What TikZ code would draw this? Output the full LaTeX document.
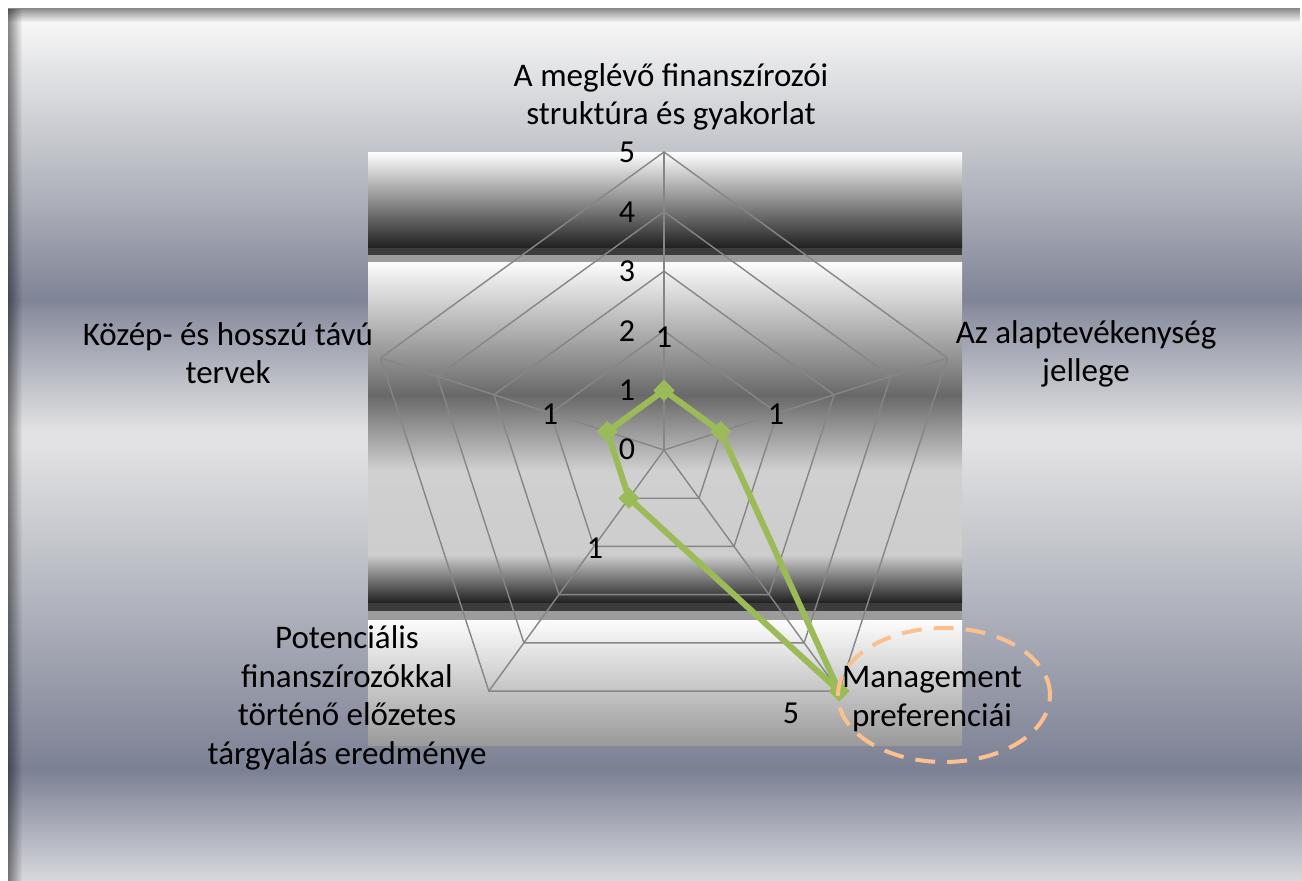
\documentclass[tikz,border=0pt]{standalone}
\usepackage{fontspec}
\setmainfont{Carlito}
\usetikzlibrary{fadings,shapes.geometric}
\definecolor{gridgray}{HTML}{868686}
\definecolor{datagreen}{HTML}{9BBB59}
\definecolor{hlorange}{HTML}{FAC090}
\definecolor{bandA}{HTML}{3C3C3C}
\definecolor{bandB}{HTML}{9C9C9C}
\newcommand{\vband}[6]{\definecolor{vbtop}{HTML}{#3}\definecolor{vbbot}{HTML}{#4}\shade[top color=vbtop,bottom color=vbbot] (#5,#1) rectangle (#6,#2);}
\tikzset{
  gridline/.style={draw=gridgray, line width=1.4pt},
  dataline/.style={draw=datagreen, line width=6pt, line join=round},
  marker/.style={diamond, fill=datagreen, inner sep=0pt, minimum width=21pt, minimum height=21pt},
  catlabel/.style={align=center, font=\fontsize{33}{38.5}\selectfont, inner sep=0pt},
  numlabel/.style={font=\fontsize{32}{36}\selectfont, inner sep=0pt},
  highlight/.style={ellipse, draw=hlorange, line width=4pt, dash pattern=on 20pt off 12pt, minimum width=212pt, minimum height=134pt, inner sep=0pt},
}
\begin{document}
\begin{tikzpicture}[x=1pt,y=-1pt]
\useasboundingbox (0,0) rectangle (1302,881);
\fill[white] (0,0) rectangle (1302,881);
% outer background gradient
\vband{8}{20.5}{F8F8F8}{F7F7F7}{8}{1302}
\vband{20}{200.5}{F7F7F7}{ADB0B9}{8}{1302}
\vband{200}{300.5}{ADB0B9}{7E8396}{8}{1302}
\vband{300}{310.5}{7E8396}{8A8E9F}{8}{1302}
\vband{310}{430.5}{8A8E9F}{E2E2E4}{8}{1302}
\vband{430}{445.5}{E2E2E4}{E2E2E4}{8}{1302}
\vband{445}{600.5}{E2E2E4}{B2B5BE}{8}{1302}
\vband{600}{770.5}{B2B5BE}{7B8094}{8}{1302}
\vband{770}{881}{7B8094}{D8D9DD}{8}{1302}
% frame shadow
\fill[black, opacity=0.45, path fading=east] (8,8) rectangle (22,881);
\fill[black, opacity=0.45, path fading=south] (8,8) rectangle (1302,22);
% plot area gradient
\vband{152}{248.5}{FFFFFF}{1E1E1E}{368}{962}
\fill[bandA] (368,248) rectangle (962,255.5);
\fill[bandB] (368,255) rectangle (962,262.5);
\vband{262}{395.5}{FCFCFC}{686868}{368}{962}
\vband{395}{470.5}{686868}{D0D0D0}{368}{962}
\vband{470}{555.5}{D0D0D0}{CDCDCD}{368}{962}
\vband{555}{603.5}{CDCDCD}{1E1E1E}{368}{962}
\fill[bandA] (368,603) rectangle (962,611.5);
\fill[bandB] (368,611) rectangle (962,620.5);
\vband{620}{745}{FCFCFC}{9A9A9A}{368}{962}
% radar grid
\begin{scope}[shift={(664,450)}]
  \coordinate (C) at (0,0);
  \foreach \k in {1,...,5} {
    \draw[gridline] (-90:\k*59.6) -- (-18:\k*59.6) -- (54:\k*59.6) -- (126:\k*59.6) -- (198:\k*59.6) -- cycle;
  }
  \foreach \a/\n in {-90/vt,-18/vr,54/vbr,126/vbl,198/vl} {
    \coordinate (\n) at (\a:298);
    \draw[gridline] (C) -- (\n);
  }
  % data points
  \node[marker] (p1) at (-90:59.6) {};
  \node[marker] (p2) at (-18:59.6) {};
  \node[marker] (p3) at (54:298) {};
  \node[marker] (p4) at (126:59.6) {};
  \node[marker] (p5) at (198:59.6) {};
  \draw[dataline] (p1.center) -- (p2.center) -- (p3.center) -- (p4.center) -- (p5.center) -- cycle;
  \foreach \p in {p1,p2,p3,p4,p5} { \node[marker] at (\p) {}; }
\end{scope}
% axis value labels
\node[numlabel] (a5) at (627,152) {5};
\node[numlabel] (a4) at (627,212) {4};
\node[numlabel] (a3) at (627,271) {3};
\node[numlabel] (a2) at (627,331) {2};
\node[numlabel] (a1) at (627,390) {1};
\node[numlabel] (a0) at (627,449) {0};
% data labels
\node[numlabel] (d1) at (664,337) {1};
\node[numlabel] (d2) at (776,414) {1};
\node[numlabel] (d3) at (791,713) {5};
\node[numlabel] (d4) at (595,548) {1};
\node[numlabel] (d5) at (550,414) {1};
% category labels
\node[catlabel] (c1) at (671,97) {A meglévő finanszírozói\\struktúra és gyakorlat};
\node[catlabel] (c2) at (1086,354) {Az alaptevékenység\\jellege};
\node[catlabel] (c3) at (932,699) {Management\\preferenciái};
\node[catlabel] (c4) at (347,698) {Potenciális\\finanszírozókkal\\történő előzetes\\tárgyalás eredménye};
\node[catlabel] (c5) at (228,353) {Közép- és hosszú távú\\tervek};
% highlight ellipse
\node[highlight] (hl) at (944,695) {};
\end{tikzpicture}
\end{document}
